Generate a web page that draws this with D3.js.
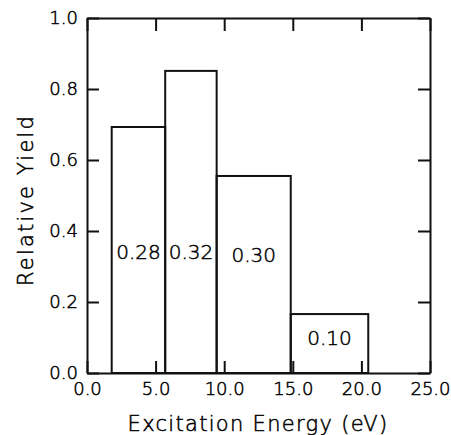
<!DOCTYPE html>
<html>
<head>
<meta charset="utf-8">
<script src="https://cdn.jsdelivr.net/npm/d3@7"></script>
<style>
  body { margin: 0; background: #fff; }
  text { font-family: "DejaVu Sans", sans-serif; font-weight: 200; fill: #000; stroke: #000; stroke-width: 0.5px; }
</style>
</head>
<body>
<div id="chart"></div>
<script>
// histogram: bin edges (eV), relative yield of each bin, and the fraction written inside
const binEdges = [1.8, 5.7, 9.45, 14.85, 20.5]
const yields = [0.693, 0.851, 0.555, 0.166]
const fractions = ["0.28", "0.32", "0.30", "0.10"]

const xTicks = [0, 5, 10, 15, 20, 25]
const yTicks = [0, 0.2, 0.4, 0.6, 0.8, 1.0]

const WIDTH = 451
const HEIGHT = 435

const x = d3.scaleLinear().domain([0, 25]).range([87, 430])
const y = d3.scaleLinear().domain([0, 1]).range([373, 18])

const svg = d3.select("#chart")
    .append("svg")
    .attr("width", WIDTH)
    .attr("height", HEIGHT)

svg.append("rect")
    .attr("width", WIDTH)
    .attr("height", HEIGHT)
    .attr("fill", "#fff")

// bars
const bins = yields.map((v, i) => ({ x0: binEdges[i], x1: binEdges[i + 1], v: v, label: fractions[i] }))

svg.append("g")
    .selectAll("rect")
    .data(bins)
    .enter()
    .append("rect")
    .attr("x", d => x(d.x0))
    .attr("y", d => y(d.v))
    .attr("width", d => x(d.x1) - x(d.x0))
    .attr("height", d => y(0) - y(d.v))
    .attr("fill", "none")
    .attr("stroke", "#111")
    .attr("stroke-width", 2)

svg.append("g")
    .selectAll("text")
    .data(bins)
    .enter()
    .append("text")
    .attr("x", d => x((d.x0 + d.x1) / 2))
    .attr("y", d => y(Math.min(0.34, d.v * 0.6)))
    .attr("dy", "0.35em")
    .attr("text-anchor", "middle")
    .attr("font-size", 20)
    .text(d => d.label)

// axes, ticks pointing inward
const axBottom = svg.append("g")
    .attr("transform", `translate(0,${y(0)})`)
    .call(d3.axisBottom(x).tickValues(xTicks).tickSizeInner(-12).tickSizeOuter(0)
        .tickPadding(9).tickFormat(d3.format(".1f")))

const axLeft = svg.append("g")
    .attr("transform", `translate(${x(0)},0)`)
    .call(d3.axisLeft(y).tickValues(yTicks).tickSizeInner(-12).tickSizeOuter(0)
        .tickPadding(9).tickFormat(d3.format(".1f")))

const axTop = svg.append("g")
    .attr("transform", `translate(0,${y(1)})`)
    .call(d3.axisTop(x).tickValues(xTicks).tickSizeInner(-13).tickSizeOuter(0).tickFormat(""))

const axRight = svg.append("g")
    .attr("transform", `translate(${x(25)},0)`)
    .call(d3.axisRight(y).tickValues(yTicks).tickSizeInner(-12).tickSizeOuter(0).tickFormat(""))

svg.selectAll(".domain, .tick line")
    .attr("stroke", "#111")
    .attr("stroke-width", 2)

svg.selectAll(".tick text")
    .attr("font-size", 18)
    .attr("font-family", "DejaVu Sans, sans-serif")
    .attr("font-weight", 200)
    .attr("fill", "#000")

// axis titles
svg.append("text")
    .attr("x", 258)
    .attr("y", 431)
    .attr("text-anchor", "middle")
    .attr("font-size", 21)
    .attr("letter-spacing", 1.3)
    .text("Excitation Energy (eV)")

svg.append("text")
    .attr("transform", "translate(33,200) rotate(-90)")
    .attr("text-anchor", "middle")
    .attr("font-size", 21)
    .attr("letter-spacing", 2.2)
    .text("Relative Yield")
</script>
</body>
</html>
